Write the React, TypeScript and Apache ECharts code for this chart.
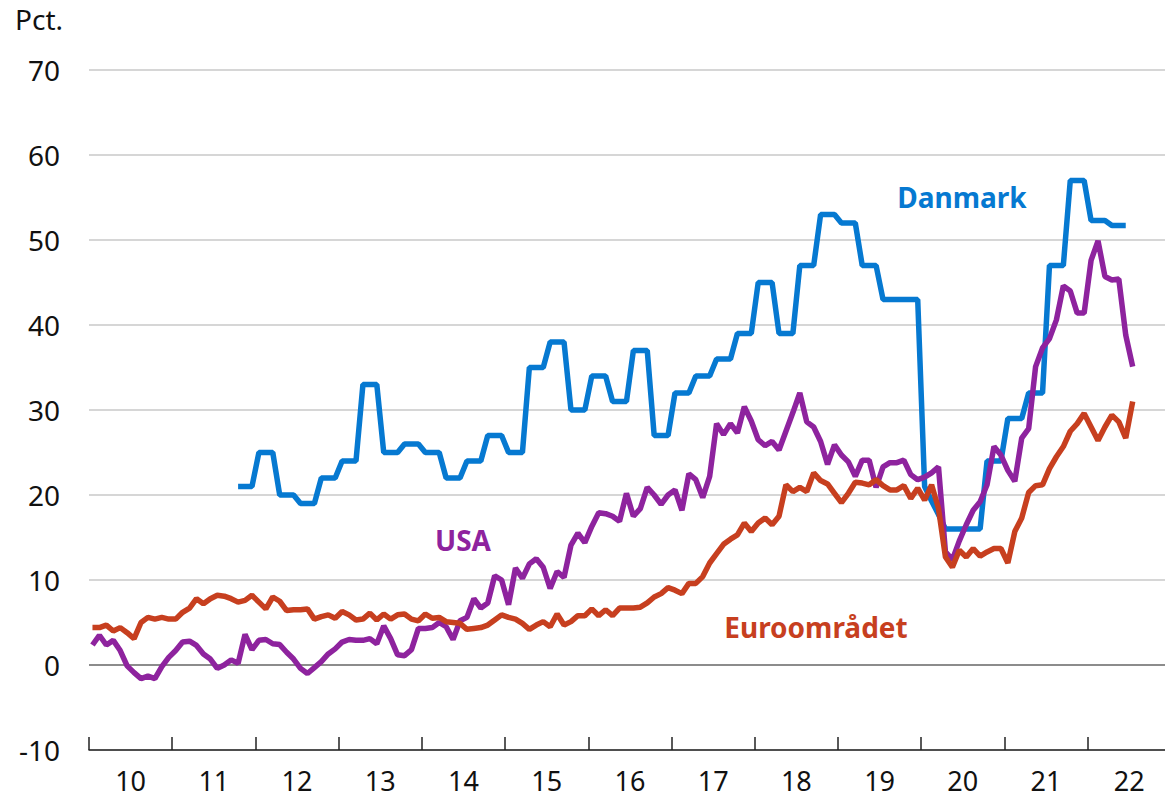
import React, { useEffect, useRef } from "react";
import * as echarts from "echarts";

// Monthly observations starting January 2010 (index 0 = 2010-01)
const startYear = 2010;
const years = [2010, 2011, 2012, 2013, 2014, 2015, 2016, 2017, 2018, 2019, 2020, 2021, 2022];
const yearLabels = ["10", "11", "12", "13", "14", "15", "16", "17", "18", "19", "20", "21", "22"];
const yTicks = [-10, 0, 10, 20, 30, 40, 50, 60, 70];

const usa = [
  2.35, 3.5, 2.35, 2.9, 1.7, -0.1, -0.9, -1.6, -1.3, -1.6, -0.2, 0.9,
  1.7, 2.7, 2.8, 2.3, 1.3, 0.7, -0.4, 0.0, 0.6, 0.2, 3.6, 1.8,
  2.9, 3.0, 2.5, 2.4, 1.5, 0.7, -0.4, -1.0, -0.3, 0.4, 1.3, 1.9,
  2.7, 3.0, 2.9, 2.9, 3.1, 2.5, 4.6, 3.1, 1.2, 1.1, 1.8, 4.3,
  4.3, 4.4, 5.0, 4.5, 3.0, 5.2, 5.6, 7.8, 6.7, 7.3, 10.5, 10.0,
  7.1, 11.4, 10.2, 11.9, 12.5, 11.5, 9.0, 11.0, 10.3, 14.1, 15.5, 14.4,
  16.3, 17.9, 17.8, 17.5, 16.9, 20.2, 17.5, 18.4, 20.9, 20.0, 18.9, 20.0,
  20.6, 18.2, 22.5, 21.8, 19.7, 22.2, 28.4, 27.1, 28.4, 27.3, 30.4, 28.7,
  26.5, 25.8, 26.3, 25.3, 27.5, 29.7, 32.0, 28.6, 28.0, 26.3, 23.6, 25.9,
  24.7, 23.9, 22.2, 24.1, 24.1, 20.9, 23.3, 23.8, 23.8, 24.1, 22.4, 21.8,
  22.1, 22.6, 23.3, 13.3, 12.4, 14.6, 16.5, 18.2, 19.2, 21.2, 25.7, 24.7,
  22.9, 21.6, 26.7, 27.8, 35.1, 37.3, 38.4, 40.6, 44.6, 44.0, 41.4, 41.4,
  47.6, 49.9, 45.7, 45.3, 45.4, 38.8, 35.1,
];

const euro = [
  4.4, 4.4, 4.7, 4.0, 4.4, 3.8, 3.1, 5.0, 5.6, 5.4, 5.6, 5.4,
  5.4, 6.2, 6.7, 7.8, 7.2, 7.8, 8.2, 8.1, 7.8, 7.4, 7.6, 8.2,
  7.4, 6.6, 8.0, 7.5, 6.4, 6.5, 6.5, 6.6, 5.4, 5.7, 5.9, 5.5,
  6.3, 5.9, 5.3, 5.4, 6.1, 5.3, 6.0, 5.4, 5.9, 6.0, 5.4, 5.2,
  6.0, 5.5, 5.6, 5.1, 5.0, 4.9, 4.2, 4.3, 4.4, 4.7, 5.3, 5.9,
  5.6, 5.4, 4.9, 4.2, 4.7, 5.1, 4.5, 6.0, 4.7, 5.1, 5.8, 5.8,
  6.6, 5.8, 6.5, 5.8, 6.7, 6.7, 6.7, 6.8, 7.3, 8.0, 8.4, 9.1,
  8.8, 8.4, 9.6, 9.6, 10.4, 12.0, 13.1, 14.2, 14.8, 15.3, 16.7, 15.7,
  16.7, 17.3, 16.5, 17.5, 21.2, 20.4, 20.9, 20.4, 22.6, 21.7, 21.3, 20.2,
  19.1, 20.2, 21.5, 21.4, 21.2, 21.8, 21.1, 20.6, 20.6, 21.1, 19.6, 20.8,
  19.4, 21.2, 18.4, 12.7, 11.5, 13.5, 12.7, 13.7, 12.8, 13.3, 13.7, 13.7,
  12.0, 15.7, 17.3, 20.3, 21.1, 21.2, 23.1, 24.5, 25.7, 27.5, 28.4, 29.6,
  28.0, 26.4, 28.0, 29.4, 28.6, 26.7, 31.0,
];

// Danmark starts October 2011 (month index 21)
const danmarkStart = 21;
const danmark = [
  21, 21, 21,
  25, 25, 25, 20, 20, 20, 19, 19, 19, 22, 22, 22,
  24, 24, 24, 33, 33, 33, 25, 25, 25, 26, 26, 26,
  25, 25, 25, 22, 22, 22, 24, 24, 24, 27, 27, 27,
  25, 25, 25, 35, 35, 35, 38, 38, 38, 30, 30, 30,
  34, 34, 34, 31, 31, 31, 37, 37, 37, 27, 27, 27,
  32, 32, 32, 34, 34, 34, 36, 36, 36, 39, 39, 39,
  45, 45, 45, 39, 39, 39, 47, 47, 47, 53, 53, 53,
  52, 52, 52, 47, 47, 47, 43, 43, 43, 43, 43, 43,
  21, 19.3, 17.7, 16, 16, 16, 16, 16, 16, 24, 24, 24,
  29, 29, 29, 32, 32, 32, 47, 47, 47, 57, 57, 57,
  52.3, 52.3, 52.3, 51.7, 51.7, 51.7,
];

const toPoints = (vals: number[], offset: number) =>
  vals.map((v, i) => [startYear + (offset + i + 0.5) / 12, v]);

const BLUE = "#0679d1";
const PURPLE = "#8e239e";
const RED = "#c73f1f";
const FONT = "Noto Sans";

export default function App() {
  const ref = useRef<HTMLDivElement>(null);
  useEffect(() => {
    if (!ref.current) return;
    const chart = echarts.init(ref.current, null, { renderer: "svg" });
    const xMax = 2022.93;
    const gridColors = yTicks.map((t) => (t === 0 ? "#8c8c8c" : "#d6d6d6"));
    chart.setOption({
      animation: false,
      backgroundColor: "#ffffff",
      textStyle: { fontFamily: FONT },
      grid: { left: 89, right: 0, top: 70, bottom: 48, containLabel: false },
      xAxis: {
        type: "value",
        min: startYear,
        max: xMax,
        interval: 1,
        position: "bottom",
        axisLine: { show: true, onZero: false, lineStyle: { color: "#222", width: 1.5 } },
        axisTick: {
          show: true,
          inside: true,
          length: 13,
          customValues: years,
          lineStyle: { color: "#222", width: 1.5 },
        },
        axisLabel: {
          show: true,
          customValues: years.map((y) => y + 0.5),
          margin: 30,
          verticalAlign: "middle",
          lineHeight: 26,
          color: "#111",
          fontSize: 27,
          fontFamily: FONT,
          formatter: (v: number) => yearLabels[Math.floor(v) - startYear] ?? "",
        },
        splitLine: { show: false },
      },
      yAxis: {
        type: "value",
        min: -10,
        max: 70,
        interval: 10,
        axisLine: { show: false },
        axisTick: { show: false },
        axisLabel: { color: "#111", fontSize: 28, fontFamily: FONT, margin: 29 },
        splitLine: { show: true, lineStyle: { color: gridColors, width: 2 } },
      },
      graphic: [
        { type: "text", left: 15, top: 5, style: { text: "Pct.", fontSize: 28, fontFamily: FONT, fill: "#111" } },
        {
          type: "text", x: 962, y: 197,
          style: { text: "Danmark", fontSize: 28, fontWeight: "bold", fontFamily: FONT, fill: BLUE, align: "center", verticalAlign: "middle" },
        },
        {
          type: "text", x: 463, y: 540,
          style: { text: "USA", fontSize: 28, fontWeight: "bold", fontFamily: FONT, fill: PURPLE, align: "center", verticalAlign: "middle" },
        },
        {
          type: "text", x: 816, y: 627,
          style: { text: "Euroområdet", fontSize: 28, fontWeight: "bold", fontFamily: FONT, fill: RED, align: "center", verticalAlign: "middle" },
        },
      ],
      series: [
        {
          name: "Danmark", type: "line", data: toPoints(danmark, danmarkStart),
          showSymbol: false, symbol: "none", lineStyle: { color: BLUE, width: 5.5 }, z: 2,
        },
        {
          name: "USA", type: "line", data: toPoints(usa, 0),
          showSymbol: false, symbol: "none", lineStyle: { color: PURPLE, width: 5.5 }, z: 3,
        },
        {
          name: "Euroområdet", type: "line", data: toPoints(euro, 0),
          showSymbol: false, symbol: "none", lineStyle: { color: RED, width: 5.5 }, z: 4,
        },
      ],
    });
    return () => chart.dispose();
  }, []);
  return (
    <div
      ref={ref}
      style={{ position: "fixed", left: 0, top: 0, width: 1165, height: 798, background: "#fff" }}
    />
  );
}
